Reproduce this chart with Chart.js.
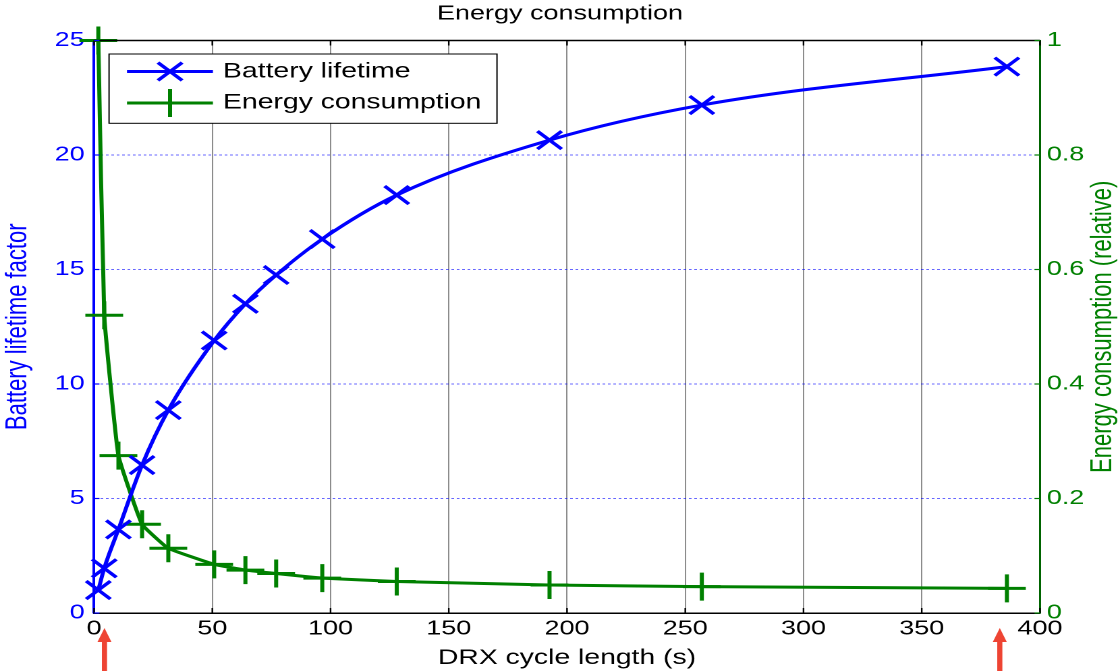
<!DOCTYPE html>
<html><head><meta charset="utf-8">
<script src="https://cdn.jsdelivr.net/npm/chart.js@4.4.1/dist/chart.umd.min.js"></script>
<style>
html,body{margin:0;padding:0;background:#fff;overflow:hidden;}
#wrap{position:absolute;left:0;top:0;width:830px;height:671px;transform:scaleX(1.349398);transform-origin:0 0;}
</style></head><body>
<div id="wrap"><canvas id="c" width="830" height="671"></canvas></div>
<script>
const chartTitle = 'Energy consumption';
const xTitle = 'DRX cycle length (s)';
const leftTitle = 'Battery lifetime factor';
const rightTitle = 'Energy consumption (relative)';
const seriesNames = ['Battery lifetime', 'Energy consumption'];
const drxCycle = [1.8, 4.3, 10.3, 20.3, 31.4, 50.8, 64, 77, 96.5, 128, 192.6, 257, 386];
const batteryLifetime = [1.0, 1.95, 3.65, 6.46, 8.86, 11.9, 13.5, 14.76, 16.33, 18.25, 20.65, 22.18, 23.86];
const energyConsumption = [1.0, 0.52, 0.275, 0.155, 0.113, 0.085, 0.075, 0.069, 0.061, 0.055, 0.049, 0.046, 0.043];
const xTickValues = [0, 50, 100, 150, 200, 250, 300, 350, 400];
const xTickLabels = ['0', '50', '100', '150', '200', '250', '300', '350', '400'];
const leftTickValues = [0, 5, 10, 15, 20, 25];
const leftTickLabels = ['0', '5', '10', '15', '20', '25'];
const rightTickValues = [0, 0.2, 0.4, 0.6, 0.8, 1];
const rightTickLabels = ['0', '0.2', '0.4', '0.6', '0.8', '1'];
const arrowMarks = [4.4, 383];

const FONT = "'Liberation Sans', Arial, Helvetica, sans-serif";
const BLUE = '#0000ff';
const GREEN = '#008000';
Chart.defaults.font.family = FONT;

const toXY = (xs, ys) => xs.map((x, i) => ({x: x, y: ys[i]}));

const decor = {
  id: 'decor',
  afterDraw(chart) {
    const ctx = chart.ctx;
    const a = chart.chartArea;
    const xs = chart.scales.x, ys = chart.scales.y, ys1 = chart.scales.y1;
    ctx.save();
    // top frame
    ctx.strokeStyle = '#000';
    ctx.lineWidth = 1.5;
    ctx.beginPath();
    ctx.moveTo(a.left, a.top);
    ctx.lineTo(a.right, a.top);
    ctx.stroke();
    // small inward tick marks
    ctx.lineWidth = 1.2;
    ctx.strokeStyle = '#000';
    xTickValues.forEach(v => {
      const px = xs.getPixelForValue(v);
      ctx.beginPath();
      ctx.moveTo(px, a.top); ctx.lineTo(px, a.top + 5);
      ctx.moveTo(px, a.bottom); ctx.lineTo(px, a.bottom - 5);
      ctx.stroke();
    });
    ctx.strokeStyle = BLUE;
    leftTickValues.forEach(v => {
      const py = ys.getPixelForValue(v);
      ctx.beginPath();
      ctx.moveTo(a.left, py); ctx.lineTo(a.left + 4, py);
      ctx.stroke();
    });
    ctx.strokeStyle = GREEN;
    rightTickValues.forEach(v => {
      const py = ys1.getPixelForValue(v);
      ctx.beginPath();
      ctx.moveTo(a.right, py); ctx.lineTo(a.right - 4, py);
      ctx.stroke();
    });
    // right axis title (reads upward)
    ctx.save();
    ctx.translate(817.4, (a.top + a.bottom) / 2);
    ctx.rotate(-Math.PI / 2);
    ctx.fillStyle = GREEN;
    ctx.font = '22px ' + FONT;
    ctx.textAlign = 'center';
    ctx.textBaseline = 'middle';
    ctx.fillText(rightTitle, 0, 0);
    ctx.restore();
    // legend
    const bx = 80.8, by = 54, bw = 287.5, bh = 69.3;
    ctx.fillStyle = '#fff';
    ctx.fillRect(bx, by, bw, bh);
    ctx.strokeStyle = '#000';
    ctx.lineWidth = 1;
    ctx.strokeRect(bx, by, bw, bh);
    const items = [
      {name: seriesNames[0], color: BLUE, style: 'crossRot', r: 12.7, y: 71.5, ty: 77.3},
      {name: seriesNames[1], color: GREEN, style: 'cross', r: 14, y: 103, ty: 108.5}
    ];
    items.forEach(it => {
      ctx.strokeStyle = it.color;
      ctx.lineWidth = 3;
      ctx.beginPath();
      ctx.moveTo(94.1, it.y);
      ctx.lineTo(157.8, it.y);
      ctx.stroke();
      Chart.helpers.drawPoint(ctx, {pointStyle: it.style, radius: it.r, borderWidth: 3, rotation: 0}, 126, it.y);
      ctx.fillStyle = '#000';
      ctx.font = '21px ' + FONT;
      ctx.textAlign = 'left';
      ctx.textBaseline = 'alphabetic';
      ctx.fillText(it.name, 165.3, it.ty);
    });
    // red arrows under the x axis
    ctx.fillStyle = '#ee4433';
    arrowMarks.forEach(v => {
      const px = xs.getPixelForValue(v);
      ctx.beginPath();
      ctx.moveTo(px, 628);
      ctx.lineTo(px + 5.2, 642);
      ctx.lineTo(px + 1.9, 642);
      ctx.lineTo(px + 1.9, 671);
      ctx.lineTo(px - 1.9, 671);
      ctx.lineTo(px - 1.9, 642);
      ctx.lineTo(px - 5.2, 642);
      ctx.closePath();
      ctx.fill();
    });
    ctx.restore();
  }
};

new Chart(document.getElementById('c'), {
  type: 'line',
  data: {
    datasets: [
      {
        label: seriesNames[0],
        data: toXY(drxCycle, batteryLifetime),
        yAxisID: 'y',
        borderColor: BLUE,
        backgroundColor: BLUE,
        borderWidth: 3,
        pointStyle: 'crossRot',
        pointRadius: 12.7,
        pointBorderWidth: 3,
        pointBorderColor: BLUE,
        cubicInterpolationMode: 'monotone',
        clip: false
      },
      {
        label: seriesNames[1],
        data: toXY(drxCycle, energyConsumption),
        yAxisID: 'y1',
        borderColor: GREEN,
        backgroundColor: GREEN,
        borderWidth: 3,
        pointStyle: 'cross',
        pointRadius: 14,
        pointBorderWidth: 3,
        pointBorderColor: GREEN,
        tension: 0.1,
        clip: false
      }
    ]
  },
  options: {
    responsive: false,
    animation: false,
    devicePixelRatio: 2,
    layout: {padding: 0},
    plugins: {
      legend: {display: false},
      tooltip: {enabled: false},
      title: {
        display: true,
        text: chartTitle,
        color: '#000',
        font: {size: 20, weight: 'normal'},
        padding: {top: 2, bottom: 14.5}
      }
    },
    scales: {
      x: {
        type: 'linear',
        min: 0, max: 400,
        afterBuildTicks: s => { s.ticks = xTickValues.map(v => ({value: v})); },
        ticks: {color: '#000', font: {size: 20}, padding: 4, maxRotation: 0, autoSkip: false,
                callback: (v, i) => xTickLabels[i]},
        grid: {
          color: c => (c.tick && (c.tick.value === 0 || c.tick.value === 400)) ? 'rgba(0,0,0,0)' : '#8c8c8c',
          lineWidth: 1, drawTicks: false
        },
        border: {display: true, color: '#000', width: 1.5},
        title: {display: true, text: xTitle, color: '#000', font: {size: 21}, padding: {top: 2.4, bottom: 0}},
        afterFit: s => { s.height = 58; }
      },
      y: {
        type: 'linear',
        position: 'left',
        min: 0, max: 25,
        afterBuildTicks: s => { s.ticks = leftTickValues.map(v => ({value: v})); },
        ticks: {color: BLUE, font: {size: 20}, padding: 7, callback: (v, i) => leftTickLabels[i]},
        grid: {
          color: c => (c.tick && (c.tick.value === 0 || c.tick.value === 25)) ? 'rgba(0,0,0,0)' : 'rgba(0,0,255,0.75)',
          lineWidth: 0.8, drawTicks: false
        },
        border: {display: true, color: BLUE, width: 2, dash: [2, 2]},
        title: {display: true, text: leftTitle, color: BLUE, font: {size: 22}, padding: {top: 0, bottom: 0}},
        afterFit: s => { s.width = 69.7; }
      },
      y1: {
        type: 'linear',
        position: 'right',
        min: 0, max: 1,
        afterBuildTicks: s => { s.ticks = rightTickValues.map(v => ({value: v})); },
        ticks: {color: GREEN, font: {size: 20}, padding: 5, callback: (v, i) => rightTickLabels[i]},
        grid: {drawOnChartArea: false, drawTicks: false},
        border: {display: true, color: '#006400', width: 1.5},
        afterFit: s => { s.width = 59.3; }
      }
    }
  },
  plugins: [decor]
});
</script>
</body></html>
